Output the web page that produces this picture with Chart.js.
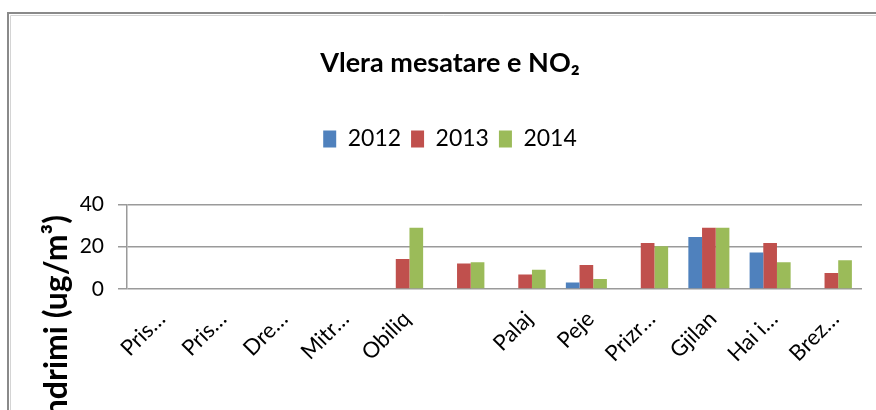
<!DOCTYPE html>
<html>
<head>
<meta charset="utf-8">
<script src="https://cdn.jsdelivr.net/npm/chart.js@4"></script>
<style>
  html, body { margin: 0; padding: 0; background: #fff; overflow: hidden; }
  #myChart { display: block; }
</style>
</head>
<body>
<canvas id="myChart" width="876" height="410"></canvas>
<script>
// chart data
const stations = ["Pris…", "Pris…", "Dre…", "Mitr…", "Obiliq", "", "Palaj", "Peje", "Prizr…", "Gjilan", "Hai i…", "Brez…"];
const years = ["2012", "2013", "2014"];
const no2_2012 = [null, null, null, null, null, null, null, 3.1, null, 24.6, 17.3, null];
const no2_2013 = [null, null, null, null, 14.2, 12.1, 6.9, 11.3, 21.7, 29.0, 21.7, 7.6];
const no2_2014 = [null, null, null, null, 29.0, 12.7, 9.1, 4.7, 20.2, 29.0, 12.7, 13.6];
const yTicks = [0, 20, 40];

const colors = ["#4F81BD", "#C0504D", "#9BBB59"];
const gridGray = "#9a9a9a";

Chart.defaults.font.family = "Lato, 'Open Sans', sans-serif";
Chart.defaults.color = "#000";

// frame around the chart + y axis title (cut off in the picture)
const decor = {
  id: "decor",
  beforeDraw(chart) {
    const c = chart.ctx;
    c.save();
    c.fillStyle = "#fff";
    c.fillRect(0, 0, chart.width, chart.height);
    c.strokeStyle = "#8a8a8a";
    c.lineWidth = 2;
    c.beginPath();
    c.moveTo(8, chart.height);
    c.lineTo(8, 13);
    c.lineTo(chart.width, 13);
    c.stroke();
    c.strokeStyle = "#d4d4d4";
    c.lineWidth = 1;
    c.beginPath();
    c.moveTo(10.5, chart.height);
    c.lineTo(10.5, 15.5);
    c.lineTo(chart.width, 15.5);
    c.stroke();
    c.restore();
  },
  afterDraw(chart) {
    const c = chart.ctx;
    c.save();
    c.translate(67, 215);
    c.rotate(-Math.PI / 2);
    c.font = "bold 32px Lato, sans-serif";
    c.fillStyle = "#000";
    c.textAlign = "right";
    c.textBaseline = "alphabetic";
    c.fillText("Përqendrimi (ug/m³)", 0, 0);
    c.restore();
  }
};

const chartData = {
  labels: stations,
  datasets: [
    { label: years[0], data: no2_2012, backgroundColor: colors[0] },
    { label: years[1], data: no2_2013, backgroundColor: colors[1] },
    { label: years[2], data: no2_2014, backgroundColor: colors[2] }
  ]
};

const myChart = new Chart(document.getElementById("myChart"), {
  type: "bar",
  data: chartData,
  plugins: [decor],
  options: {
    responsive: false,
    animation: false,
    devicePixelRatio: 1,
    categoryPercentage: 0.67,
    barPercentage: 1.0,
    layout: { padding: { left: 38, right: 14, top: 0, bottom: 0 } },
    plugins: {
      title: {
        display: true,
        text: "Vlera mesatare e NO₂",
        font: { size: 27, weight: "bold" },
        padding: { top: 47, bottom: 38 }
      },
      legend: {
        position: "top",
        weight: 1800,
        labels: {
          boxWidth: 13,
          boxHeight: 17,
          padding: 10,
          font: { size: 23 }
        }
      },
      // empty subtitle used as a spacer between legend and plot
      subtitle: {
        display: true,
        text: "",
        font: { size: 10 },
        padding: { top: 32, bottom: 0 }
      },
      tooltip: { enabled: false }
    },
    scales: {
      x: {
        grid: { display: false },
        border: { display: false },
        ticks: {
          autoSkip: false,
          minRotation: 45,
          maxRotation: 45,
          padding: 9,
          labelOffset: 4,
          font: { size: 22 }
        },
        afterFit: s => { s.height = 121; }
      },
      y: {
        min: 0,
        max: 40,
        afterBuildTicks: s => { s.ticks = yTicks.map(v => ({ value: v })); },
        grid: { color: gridGray, lineWidth: 1.5, tickLength: 9, drawTicks: true },
        border: { color: gridGray, width: 1.5 },
        ticks: { padding: 14, font: { size: 21 } },
        afterFit: s => { s.width = 89; }
      }
    }
  }
});
</script>
</body>
</html>
